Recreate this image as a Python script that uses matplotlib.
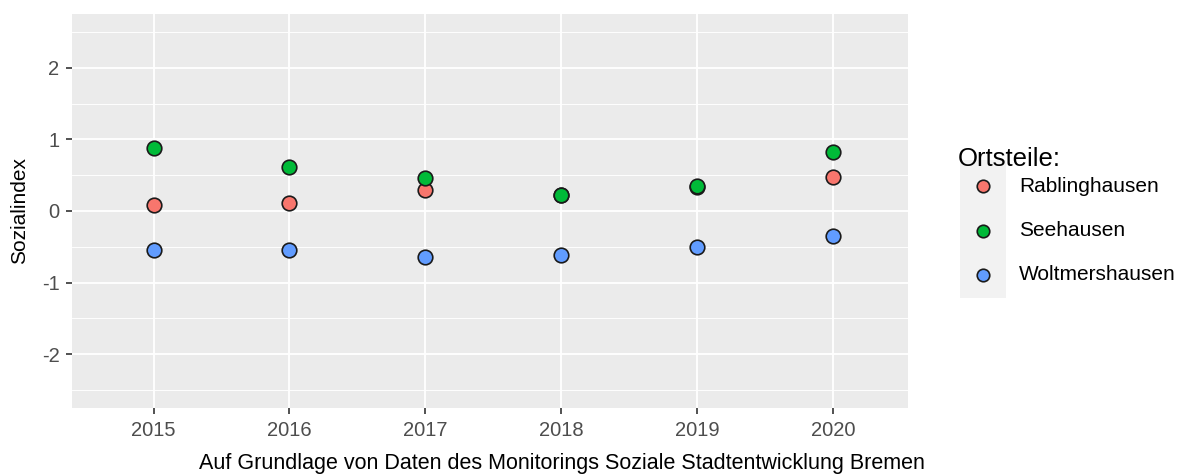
import matplotlib
matplotlib.use('Agg')
import matplotlib.pyplot as plt
from matplotlib.ticker import MultipleLocator
from matplotlib.lines import Line2D

plt.rcParams['font.family'] = ['Liberation Sans', 'DejaVu Sans']

years = [2015, 2016, 2017, 2018, 2019, 2020]
rablinghausen = [0.08, 0.11, 0.30, 0.22, 0.33, 0.47]
seehausen = [0.88, 0.61, 0.46, 0.23, 0.35, 0.83]
woltmershausen = [-0.54, -0.55, -0.65, -0.62, -0.50, -0.35]

names = ['Rablinghausen', 'Seehausen', 'Woltmershausen']
colors = ['#F8766D', '#00BA38', '#619CFF']
series = [rablinghausen, seehausen, woltmershausen]

W, H = 1180, 475
fig = plt.figure(figsize=(W / 100, H / 100), dpi=100)
ax = fig.add_axes([72 / W, (H - 408) / H, (908 - 72) / W, (408 - 14) / H])
ax.set_facecolor('#EBEBEB')
for s in ax.spines.values():
    s.set_visible(False)

ax.set_xlim(2014.40, 2020.55)
ax.set_ylim(-2.755, 2.755)
ax.xaxis.set_major_locator(MultipleLocator(1))
ax.yaxis.set_major_locator(MultipleLocator(1))
ax.yaxis.set_minor_locator(MultipleLocator(0.5))
ax.grid(which='major', color='white', linewidth=1.3)
ax.grid(which='minor', axis='y', color='white', linewidth=0.65)
ax.set_axisbelow(True)
ax.tick_params(which='minor', length=0)
ax.tick_params(which='major', length=4, width=1.2, color='#333333',
               labelcolor='#4D4D4D', labelsize=14.5, pad=5)
ax.set_yticks([-2, -1, 0, 1, 2])
ax.set_yticklabels(['-2', '-1', '0', '1', '2'])

for name, col, vals in zip(names, colors, series):
    ax.plot(years, vals, linestyle='none', marker='o', markersize=10.5,
            markerfacecolor=col, markeredgecolor='#1a1a1a', markeredgewidth=1.2,
            label=name, zorder=3)

fig.text(20 / W, 1 - 211 / H, 'Sozialindex', fontsize=15, rotation=90,
         ha='center', va='center')
fig.text(562 / W, 1 - 464 / H,
         'Auf Grundlage von Daten des Monitorings Soziale Stadtentwicklung Bremen',
         fontsize=15.5, ha='center', va='center')

# legend drawn by hand to mimic ggplot keys
fig.text(958 / W, 1 - 159 / H, 'Ortsteile:', fontsize=18.5, va='center', ha='left')
key_bg = plt.Rectangle((960 / W, 1 - 298 / H), 46 / W, 138 / H,
                       transform=fig.transFigure, facecolor='#F2F2F2',
                       edgecolor='none')
fig.patches.append(key_bg)
for i, (name, col) in enumerate(zip(names, colors)):
    y = 1 - (186 + i * 44.5) / H
    fig.add_artist(Line2D([983 / W], [y], transform=fig.transFigure,
                          linestyle='none', marker='o', markersize=9,
                          markerfacecolor=col, markeredgecolor='#1a1a1a',
                          markeredgewidth=1.2))
    fig.text(1019 / W, y, name, fontsize=15, va='center', ha='left')

fig.savefig('out.png', dpi=100)
